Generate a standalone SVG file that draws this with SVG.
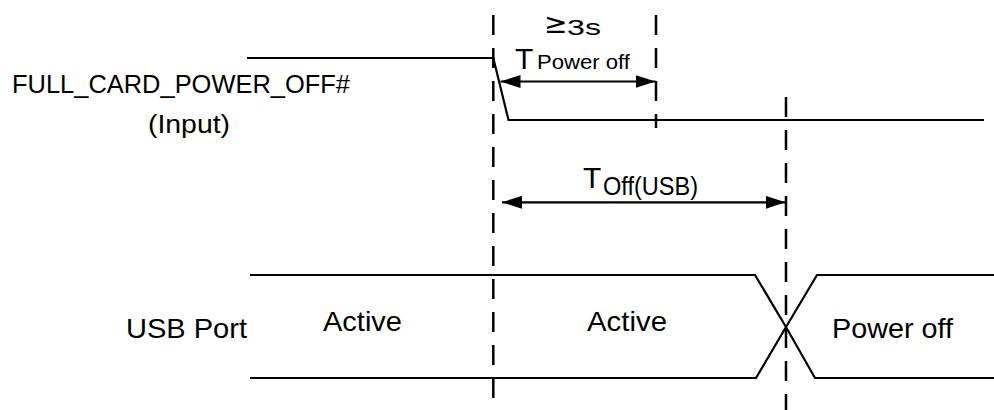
<svg xmlns="http://www.w3.org/2000/svg" width="994" height="410" viewBox="0 0 994 410">
<defs>
<style>
.t{font-family:"Liberation Sans",Arial,sans-serif;fill:#000}
.sig{fill:none;stroke:#000;stroke-width:2.2;stroke-linejoin:miter}
.dash{fill:none;stroke:#000;stroke-width:2.5;stroke-dasharray:20 13}
.arr{fill:none;stroke:#000;stroke-width:2.2}
</style>
<marker id="ah" viewBox="0 0 20 13" refX="20" refY="6.5" markerWidth="20" markerHeight="13" markerUnits="userSpaceOnUse" orient="auto-start-reverse">
<path d="M0,0 L20,6.5 L0,13 z" fill="#000"/>
</marker>
</defs>
<rect width="994" height="410" fill="#fff"/>
<g id="guides">
<line class="dash" x1="493.3" y1="15" x2="493.3" y2="398"/>
<line class="dash" x1="656" y1="15" x2="656" y2="128"/>
<line class="dash" x1="786" y1="97" x2="786" y2="410"/>
</g>
<g id="full-card-power-off">
<text class="t" x="12" y="93" font-size="25" textLength="338" lengthAdjust="spacingAndGlyphs">FULL_CARD_POWER_OFF#</text>
<text class="t" x="148" y="133" font-size="25" textLength="82" lengthAdjust="spacingAndGlyphs">(Input)</text>
<path class="sig" d="M247,58 H493.3 L508.5,120 H984"/>
</g>
<g id="usb-port">
<text class="t" x="126" y="338" font-size="28" textLength="121" lengthAdjust="spacingAndGlyphs">USB Port</text>
<path class="sig" d="M250,275 H755 L786,327 L815,378 H994"/>
<path class="sig" d="M250,378 H756 L786,327 L817,275 H994"/>
<text class="t" x="323" y="331" font-size="28" textLength="79" lengthAdjust="spacingAndGlyphs">Active</text>
<text class="t" x="587" y="331" font-size="28" textLength="80" lengthAdjust="spacingAndGlyphs">Active</text>
<text class="t" x="832" y="338" font-size="28" textLength="121" lengthAdjust="spacingAndGlyphs">Power off</text>
</g>
<g id="labels">
<text class="t" x="544" y="33" font-size="22"><tspan font-family="'DejaVu Sans',sans-serif" font-size="28">≥</tspan><tspan x="567" y="35" textLength="34" lengthAdjust="spacingAndGlyphs">3s</tspan></text>
<text class="t" x="515" y="68.5" font-size="30">T</text>
<text class="t" x="537" y="69" font-size="20" textLength="93" lengthAdjust="spacingAndGlyphs">Power off</text>
<text class="t" x="583" y="188" font-size="30">T</text>
<text class="t" x="603" y="195" font-size="25" textLength="95" lengthAdjust="spacingAndGlyphs">Off(USB)</text>
</g>
<g id="connectors">
<line class="arr" x1="500.5" y1="81.5" x2="655.5" y2="81.5" marker-start="url(#ah)" marker-end="url(#ah)"/>
<line class="arr" x1="502" y1="202.3" x2="785.5" y2="202.3" marker-start="url(#ah)" marker-end="url(#ah)"/>
</g>
</svg>
